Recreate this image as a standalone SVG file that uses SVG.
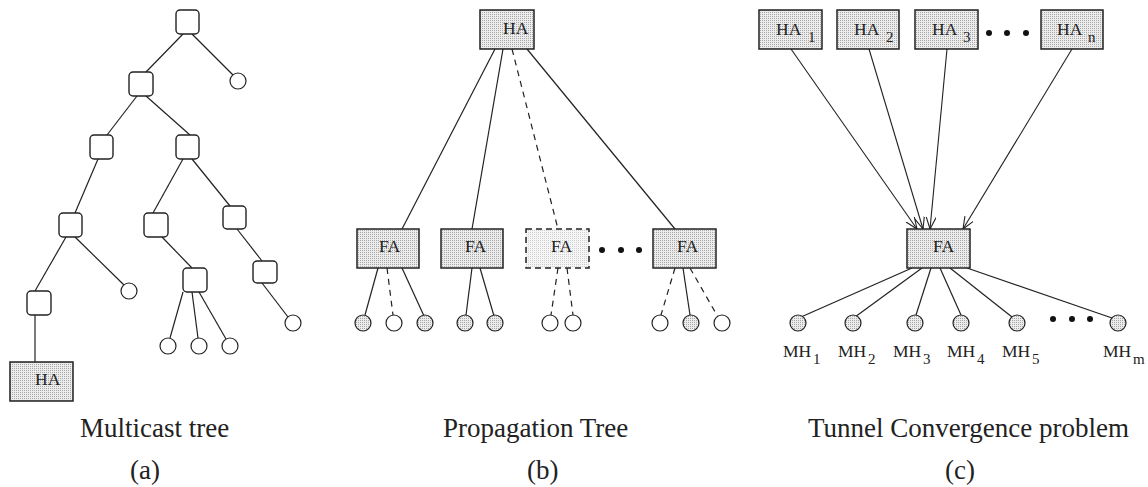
<svg xmlns="http://www.w3.org/2000/svg" width="1148" height="487" viewBox="0 0 1148 487">
<defs>
<pattern id="stip" width="2" height="2" patternUnits="userSpaceOnUse"><rect width="2" height="2" fill="#ececec"/><rect width="1" height="1" fill="#a8a8a8"/></pattern>
<pattern id="stipL" width="2" height="2" patternUnits="userSpaceOnUse"><rect width="2" height="2" fill="#f6f6f6"/><rect width="1" height="1" fill="#cfcfcf"/></pattern>
<marker id="arr" markerUnits="userSpaceOnUse" markerWidth="14" markerHeight="12" refX="12" refY="5" orient="auto"><path d="M0,0 L12,5 L0,10" fill="none" stroke="#222" stroke-width="1.1"/></marker>
</defs>
<style>
.sq{fill:#fff;stroke:#222;stroke-width:1.4}
.box{fill:url(#stip);stroke:#222;stroke-width:1.5}
.dbox{fill:url(#stipL);stroke:#222;stroke-width:1.5;stroke-dasharray:6,4}
.c{fill:#fff;stroke:#222;stroke-width:1.2}
.cg{fill:url(#stip);stroke:#222;stroke-width:1.2}
.ln{stroke:#222;stroke-width:1.2;fill:none}
.dl{stroke:#222;stroke-width:1.2;fill:none;stroke-dasharray:6,5}
.ar{stroke:#222;stroke-width:1.1;fill:none;marker-end:url(#arr)}
.dot{fill:#111}
text{font-family:"Liberation Serif","Times New Roman",serif;fill:#222}
.t{font-size:17.5px}
.s{font-size:15px}
.lab{font-size:27px}
</style>
<g id="connectors">
<!-- panel a -->
<line class="ln" x1="183" y1="34" x2="146" y2="72"/>
<line class="ln" x1="192" y1="34" x2="233" y2="75"/>
<line class="ln" x1="137" y1="96" x2="107" y2="135"/>
<line class="ln" x1="146" y1="96" x2="190" y2="135"/>
<line class="ln" x1="98" y1="159" x2="75" y2="213"/>
<line class="ln" x1="183" y1="159" x2="153" y2="213"/>
<line class="ln" x1="192" y1="159" x2="230" y2="206"/>
<line class="ln" x1="66" y1="237" x2="35" y2="291"/>
<line class="ln" x1="75" y1="237" x2="124" y2="285"/>
<line class="ln" x1="35" y1="315" x2="35" y2="362"/>
<line class="ln" x1="162" y1="237" x2="192" y2="268"/>
<line class="ln" x1="183" y1="292" x2="170" y2="338"/>
<line class="ln" x1="192" y1="292" x2="198" y2="338"/>
<line class="ln" x1="199" y1="292" x2="226" y2="339"/>
<line class="ln" x1="237" y1="229" x2="262" y2="261"/>
<line class="ln" x1="262" y1="283" x2="288" y2="317"/>
<!-- panel b -->
<line class="ln" x1="495" y1="49" x2="402" y2="229"/>
<line class="ln" x1="503" y1="49" x2="472" y2="229"/>
<line class="dl" x1="512" y1="49" x2="558" y2="229"/>
<line class="ln" x1="527" y1="49" x2="675" y2="229"/>
<line class="ln" x1="378" y1="268" x2="365" y2="315"/>
<line class="dl" x1="387" y1="268" x2="393" y2="315"/>
<line class="ln" x1="402" y1="268" x2="424" y2="316"/>
<line class="ln" x1="472" y1="268" x2="466" y2="315"/>
<line class="ln" x1="480" y1="268" x2="494" y2="316"/>
<line class="dl" x1="558" y1="268" x2="551" y2="315"/>
<line class="dl" x1="567" y1="268" x2="573" y2="315"/>
<line class="dl" x1="675" y1="268" x2="661" y2="315"/>
<line class="ln" x1="683" y1="268" x2="690" y2="315"/>
<line class="dl" x1="690" y1="268" x2="718" y2="317"/>
<!-- panel c -->
<line class="ar" x1="791" y1="49" x2="917" y2="229"/>
<line class="ar" x1="869" y1="49" x2="923" y2="229"/>
<line class="ar" x1="947" y1="49" x2="930" y2="229"/>
<line class="ar" x1="1072" y1="49" x2="963" y2="229"/>
<line class="ln" x1="912" y1="268" x2="801" y2="317"/>
<line class="ln" x1="922" y1="268" x2="855" y2="317"/>
<line class="ln" x1="931" y1="268" x2="916" y2="315"/>
<line class="ln" x1="940" y1="268" x2="961" y2="315"/>
<line class="ln" x1="950" y1="268" x2="1012" y2="317"/>
<line class="ln" x1="967" y1="268" x2="1112" y2="318"/>
</g>
<g id="panel-a">
<rect id="a-n0" class="sq" x="176" y="10" width="23" height="24" rx="4"/>
<circle id="a-c0" class="c" cx="238" cy="81" r="8"/>
<rect id="a-n1" class="sq" x="129" y="72" width="24" height="24" rx="4"/>
<rect id="a-n2l" class="sq" x="90" y="135" width="23" height="24" rx="4"/>
<rect id="a-n2r" class="sq" x="176" y="135" width="23" height="24" rx="4"/>
<rect id="a-n3l" class="sq" x="59" y="213" width="23" height="24" rx="4"/>
<rect id="a-n3m" class="sq" x="144" y="213" width="24" height="24" rx="4"/>
<rect id="a-n3r" class="sq" x="223" y="206" width="23" height="23" rx="4"/>
<rect id="a-n4l" class="sq" x="27" y="291" width="24" height="24" rx="4"/>
<circle id="a-c1" class="c" cx="129" cy="291" r="8"/>
<rect id="a-n4m" class="sq" x="183" y="268" width="24" height="24" rx="4"/>
<circle id="a-c2" class="c" cx="168" cy="346" r="8"/>
<circle id="a-c3" class="c" cx="199" cy="346" r="8"/>
<circle id="a-c4" class="c" cx="230" cy="346" r="8"/>
<rect id="a-n4r" class="sq" x="253" y="261" width="24" height="22" rx="4"/>
<circle id="a-c5" class="c" cx="293" cy="323" r="8"/>
<g id="a-ha"><rect class="box" x="10" y="362" width="63" height="39"/><text class="t" x="35" y="385">HA</text></g>
</g>
<g id="panel-b">
<g id="b-ha"><rect class="box" x="480" y="10" width="54" height="39"/><text class="t" x="503" y="34">HA</text></g>
<g id="b-fa1"><rect class="box" x="357" y="229" width="62" height="39"/><text class="t" x="379" y="252">FA</text></g>
<g id="b-fa2"><rect class="box" x="441" y="229" width="62" height="39"/><text class="t" x="465" y="252">FA</text></g>
<g id="b-fa3"><rect class="dbox" x="526" y="229" width="63" height="39"/><text class="t" x="551" y="252">FA</text></g>
<g id="b-fa4"><rect class="box" x="653" y="229" width="63" height="39"/><text class="t" x="677" y="252">FA</text></g>
<g id="b-dots"><circle class="dot" cx="602" cy="250" r="3"/><circle class="dot" cx="621" cy="250" r="3"/><circle class="dot" cx="639" cy="250" r="3"/></g>
<circle id="b-c1" class="cg" cx="363" cy="323" r="8"/>
<circle id="b-c2" class="c" cx="394" cy="323" r="8"/>
<circle id="b-c3" class="cg" cx="425" cy="323" r="8"/>
<circle id="b-c4" class="cg" cx="465" cy="323" r="8"/>
<circle id="b-c5" class="cg" cx="495" cy="323" r="8"/>
<circle id="b-c6" class="c" cx="550" cy="323" r="8"/>
<circle id="b-c7" class="c" cx="573" cy="323" r="8"/>
<circle id="b-c8" class="c" cx="660" cy="323" r="8"/>
<circle id="b-c9" class="cg" cx="691" cy="323" r="8"/>
<circle id="b-c10" class="c" cx="722" cy="323" r="8"/>
</g>
<g id="panel-c">
<g id="c-ha1"><rect class="box" x="759" y="10" width="63" height="39"/><text class="t" x="776" y="35">HA</text><text class="s" x="808" y="42">1</text></g>
<g id="c-ha2"><rect class="box" x="837" y="10" width="62" height="39"/><text class="t" x="854" y="35">HA</text><text class="s" x="886" y="42">2</text></g>
<g id="c-ha3"><rect class="box" x="915" y="10" width="63" height="39"/><text class="t" x="932" y="35">HA</text><text class="s" x="963" y="42">3</text></g>
<g id="c-dots-top"><circle class="dot" cx="989" cy="33" r="3"/><circle class="dot" cx="1007" cy="33" r="3"/><circle class="dot" cx="1026" cy="33" r="3"/></g>
<g id="c-han"><rect class="box" x="1041" y="10" width="62" height="39"/><text class="t" x="1057" y="35">HA</text><text class="s" x="1088" y="42">n</text></g>
<g id="c-fa"><rect class="box" x="907" y="229" width="63" height="39"/><text class="t" x="933" y="252">FA</text></g>
<g id="c-mh1"><circle class="cg" cx="798" cy="323" r="8"/><text class="t" x="783" y="357">MH</text><text class="s" x="813" y="364">1</text></g>
<g id="c-mh2"><circle class="cg" cx="853" cy="323" r="8"/><text class="t" x="838" y="357">MH</text><text class="s" x="868" y="364">2</text></g>
<g id="c-mh3"><circle class="cg" cx="915" cy="323" r="8"/><text class="t" x="893" y="357">MH</text><text class="s" x="923" y="364">3</text></g>
<g id="c-mh4"><circle class="cg" cx="961" cy="323" r="8"/><text class="t" x="947" y="357">MH</text><text class="s" x="977" y="364">4</text></g>
<g id="c-mh5"><circle class="cg" cx="1017" cy="323" r="8"/><text class="t" x="1002" y="357">MH</text><text class="s" x="1032" y="364">5</text></g>
<g id="c-dots-bot"><circle class="dot" cx="1053" cy="319" r="3"/><circle class="dot" cx="1072" cy="319" r="3"/><circle class="dot" cx="1090" cy="319" r="3"/></g>
<g id="c-mhm"><circle class="cg" cx="1118" cy="323" r="8"/><text class="t" x="1103" y="357">MH</text><text class="s" x="1133" y="364">m</text></g>
</g>
<g id="labels">
<text class="lab" x="80" y="437">Multicast tree</text>
<text class="lab" x="130" y="479">(a)</text>
<text class="lab" x="443" y="437">Propagation Tree</text>
<text class="lab" x="527" y="479">(b)</text>
<text class="lab" x="808" y="437">Tunnel Convergence problem</text>
<text class="lab" x="945" y="479">(c)</text>
</g>
</svg>
